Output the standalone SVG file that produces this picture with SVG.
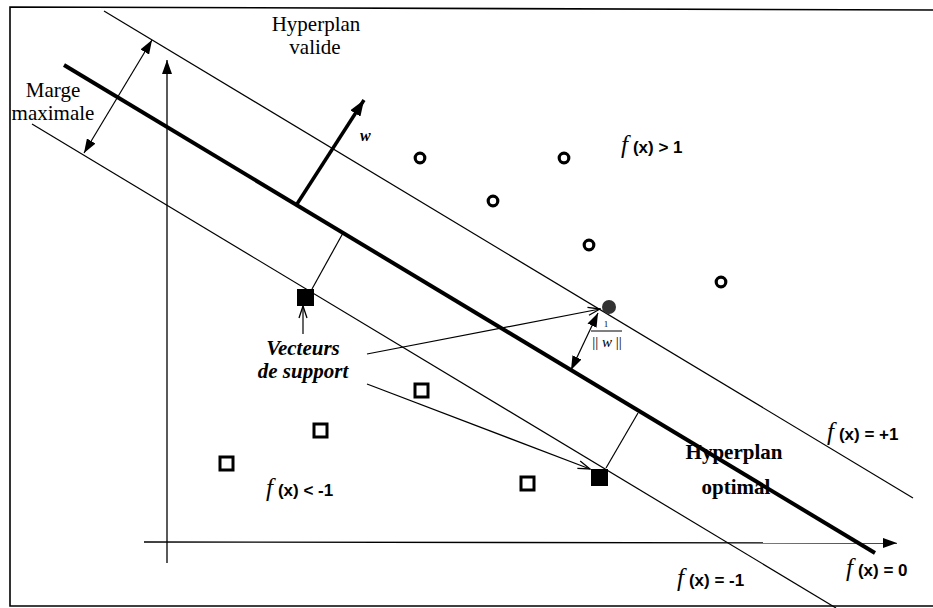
<svg xmlns="http://www.w3.org/2000/svg" width="933" height="608" viewBox="0 0 933 608">
<style>
.thin{stroke:#000;stroke-width:1.2;fill:none}
.axis{stroke:#000;stroke-width:1.3;fill:none}
.serif{font-family:"Liberation Serif","Times New Roman",serif;fill:#000}
.lbl{font-size:21px;text-anchor:middle}
.bi{font-weight:bold;font-style:italic}
.fi{font-family:"Liberation Serif","Times New Roman",serif;font-style:italic;font-size:25px}
.fx{font-family:"Liberation Sans",Arial,sans-serif;font-weight:bold;font-size:17px}
.ring{fill:none;stroke:#000;stroke-width:3.2}
.sq{fill:none;stroke:#000;stroke-width:3}
</style>
<defs>
<marker id="fill" viewBox="0 0 14 10" refX="14" refY="5" markerWidth="14" markerHeight="10" markerUnits="userSpaceOnUse" orient="auto-start-reverse">
<path d="M0,0 L14,5 L0,10 z" fill="#000"/>
</marker>
<marker id="wfill" viewBox="0 0 16 12" refX="16" refY="6" markerWidth="16" markerHeight="12" markerUnits="userSpaceOnUse" orient="auto">
<path d="M0,0 L16,6 L0,12 z" fill="#000"/>
</marker>
<marker id="open" viewBox="0 0 14 10" refX="13" refY="5" markerWidth="14" markerHeight="10" markerUnits="userSpaceOnUse" orient="auto">
<path d="M1,1 L13,5 L1,9" fill="none" stroke="#000" stroke-width="1.3"/>
</marker>
</defs>
<rect width="933" height="608" fill="#fff"/>
<polyline points="940,10 10,7 10,606 940,606" fill="none" stroke="#000" stroke-width="1.6"/>

<g id="axes">
<line class="axis" x1="167" y1="563" x2="167" y2="60" marker-end="url(#fill)"/>
<line class="axis" x1="144" y1="542" x2="897" y2="543" marker-end="url(#fill)"/>
</g>

<g id="hyperplanes">
<line class="thin" x1="104" y1="11" x2="913" y2="498"/>
<line x1="64" y1="65" x2="875" y2="553" stroke="#000" stroke-width="4"/>
<line class="thin" x1="32" y1="124" x2="836" y2="608"/>
</g>

<g id="connectors">
<line class="thin" x1="84" y1="153" x2="152" y2="40" marker-end="url(#fill)" marker-start="url(#fill)"/>
<line x1="297" y1="204" x2="364" y2="100" stroke="#000" stroke-width="3.5" marker-end="url(#wfill)"/>
<line class="thin" x1="312" y1="289" x2="343" y2="233"/>
<line class="thin" x1="606" y1="468" x2="638" y2="413"/>
<line class="thin" x1="303" y1="334" x2="303" y2="306" marker-end="url(#open)"/>
<line class="thin" x1="367" y1="354" x2="600" y2="309" marker-end="url(#open)"/>
<line class="thin" x1="367" y1="384" x2="590" y2="469" marker-end="url(#open)"/>
<line class="thin" x1="571" y1="370" x2="598" y2="313" marker-end="url(#fill)" marker-start="url(#fill)"/>
</g>

<g id="positive-points">
<circle class="ring" cx="420" cy="158" r="4.8"/>
<circle class="ring" cx="564" cy="158" r="4.8"/>
<circle class="ring" cx="493" cy="201" r="4.8"/>
<circle class="ring" cx="589" cy="245" r="4.8"/>
<circle class="ring" cx="721" cy="282" r="4.8"/>
<circle cx="609" cy="307" r="7" fill="#333"/>
</g>

<g id="negative-points">
<rect x="297" y="289" width="17" height="17" fill="#000"/>
<rect x="591" y="469" width="17" height="17" fill="#000"/>
<rect class="sq" x="415" y="384" width="13" height="13"/>
<rect class="sq" x="314" y="424" width="13" height="13"/>
<rect class="sq" x="220" y="457" width="13" height="13"/>
<rect class="sq" x="521" y="477" width="13" height="13"/>
</g>

<g id="labels">
<text class="serif lbl" x="316" y="31">Hyperplan</text>
<text class="serif lbl" x="315" y="54">valide</text>
<text class="serif lbl" x="53" y="97">Marge</text>
<text class="serif lbl" x="53" y="120">maximale</text>
<text class="serif bi" x="360" y="141" font-size="16">w</text>
<text class="serif lbl bi" x="303" y="355">Vecteurs</text>
<text class="serif lbl bi" x="303" y="378">de support</text>
<text class="serif lbl" x="734" y="459" font-weight="bold">Hyperplan</text>
<text class="serif lbl" x="736" y="494" font-weight="bold">optimal</text>
<text class="serif" x="606" y="327" font-size="9" text-anchor="middle">1</text>
<line x1="591" y1="331" x2="622" y2="331" stroke="#000" stroke-width="1"/>
<text class="serif" x="607" y="347" font-size="15" text-anchor="middle">|| <tspan font-style="italic">w</tspan> ||</text>

<text x="621" y="153"><tspan class="fi">f</tspan><tspan class="fx" dx="5">(x) &gt; 1</tspan></text>
<text x="827" y="440"><tspan class="fi">f</tspan><tspan class="fx" dx="5">(x) = +1</tspan></text>
<text x="266" y="496"><tspan class="fi">f</tspan><tspan class="fx" dx="5">(x) &lt; -1</tspan></text>
<text x="846" y="576"><tspan class="fi">f</tspan><tspan class="fx" dx="5">(x) = 0</tspan></text>
<text x="677" y="586"><tspan class="fi">f</tspan><tspan class="fx" dx="5">(x) = -1</tspan></text>
</g>
</svg>
